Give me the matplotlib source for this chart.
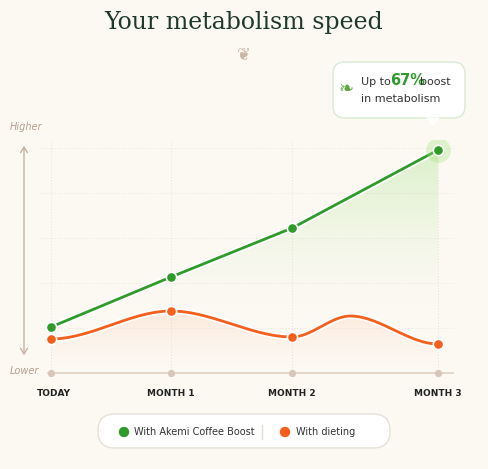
import numpy as np
import matplotlib
matplotlib.use("Agg")
import matplotlib.pyplot as plt
from matplotlib.patches import FancyBboxPatch, Polygon

months = ["TODAY", "MONTH 1", "MONTH 2", "MONTH 3"]
month_x = [0, 0.93, 1.87, 3]
green_vals = [46, 96, 145, 223]
orange_x = [0, 0.93, 1.87, 2.32, 3]
orange_vals = [34, 62, 36, 57, 29]

BG = "#fcf9f3"
GREEN = "#2e9b2a"
ORANGE = "#f4601c"
TAN = "#c9b3a3"

W, H = 488, 469
fig = plt.figure(figsize=(W/100, H/100), dpi=100, facecolor=BG)
ppu = (438-51)/3
ax = fig.add_axes([40/W, (H-373)/H, 415/W, 233/H])
ax.set_facecolor(BG)
ax.set_xlim(-11/ppu, 3+17/ppu)
ax.set_ylim(0, 233)
for s in ax.spines.values():
    s.set_visible(False)
ax.set_xticks([]); ax.set_yticks([])

for gx_ in month_x:
    ax.axvline(gx_, color="#e6e0d8", lw=0.7, ls=(0, (1, 2)), zorder=0)
for gy_ in [45, 90, 135, 180, 225]:
    ax.axhline(gy_, color="#ebe6de", lw=0.7, ls=(0, (1, 2)), zorder=0)

ax.plot([-0.02, 3.12], [0, 0], color="#e3d3c6", lw=1.3, zorder=1, clip_on=False)
ax.scatter(month_x, [0]*4, s=18, color="#d8c6b8", zorder=2, clip_on=False)

def smooth(xs, ys, n=60):
    X, Y = [], []
    for i in range(len(xs)-1):
        t = np.linspace(0, 1, n)
        h = 3*t**2 - 2*t**3
        X.append(xs[i] + (xs[i+1]-xs[i])*t)
        Y.append(ys[i] + (ys[i+1]-ys[i])*h)
    return np.concatenate(X), np.concatenate(Y)

ox, oy = smooth(orange_x, orange_vals)
gx = np.array(month_x, float); gy = np.array(green_vals, float)

def grad_fill(x, y, color, alpha_top, extent_top, extent_bot):
    from matplotlib.colors import to_rgb
    r, g, b = to_rgb(color)
    n = 200
    img = np.zeros((n, 1, 4))
    img[..., 0], img[..., 1], img[..., 2] = r, g, b
    img[:, 0, 3] = np.linspace(alpha_top, 0, n)**1.5
    im = ax.imshow(img, aspect="auto", extent=[x.min(), x.max(), extent_bot, extent_top],
                   origin="upper", zorder=1)
    verts = np.vstack([np.c_[x, y], [[x.max(), 0], [x.min(), 0]]])
    poly = Polygon(verts, closed=True, transform=ax.transData, facecolor="none", edgecolor="none")
    ax.add_patch(poly)
    im.set_clip_path(poly)

grad_fill(gx, gy, "#8fdc6a", 0.45, 223, 60)
grad_fill(ox, oy, "#ffb894", 0.4, 62, 0)

ax.plot(ox, oy, color="white", lw=4.5, zorder=3)
ax.plot(ox, oy, color=ORANGE, lw=2.0, zorder=4)
ax.plot(gx, gy, color="white", lw=4.5, zorder=3)
ax.plot(gx, gy, color=GREEN, lw=2.0, zorder=4)

ax.scatter([3], [223], s=320, color="#a6e384", alpha=0.35, zorder=4, lw=0)
ax.scatter(month_x, gy, s=55, color=GREEN, edgecolor="white", lw=1.2, zorder=5)
ax.scatter(month_x, [orange_vals[i] for i in (0, 1, 2, 4)], s=55, color=ORANGE,
           edgecolor="white", lw=1.2, zorder=5)

for x, lab in zip(month_x, months):
    ax.text(x + (0.02 if x == 0 else 0), -20, lab, ha="center", va="center",
            fontsize=6.5, fontweight="bold", color="#222222")

fig.patches.append(matplotlib.patches.FancyArrowPatch(
    (24/W, 1-358/H), (24/W, 1-143/H), arrowstyle="<->,head_length=4,head_width=2.5",
    color=TAN, lw=1, transform=fig.transFigure))
fig.text(10/W, 1-127/H, "Higher", fontsize=7, style="italic", color="#b79f8e", va="center")
fig.text(10/W, 1-371/H, "Lower", fontsize=7, style="italic", color="#b79f8e", va="center")

fig.text(0.5, 1-22/H, "Your metabolism speed", ha="center", va="center", fontsize=17,
         family="DejaVu Serif", color="#1f3a2c")
fig.text(0.5, 1-54/H, "❦", ha="center", va="center", fontsize=12, color="#cdb7a4")

cb = FancyBboxPatch((333/W, 1-118/H), 132/W, 56/H, boxstyle="round,pad=0,rounding_size=0.025",
                    transform=fig.transFigure, facecolor="white", edgecolor="#d9ead0", lw=1)
fig.patches.append(cb)
fig.patches.append(Polygon([[426/W, 1-117.5/H], [440/W, 1-117.5/H], [433/W, 1-126/H]],
                           closed=True, transform=fig.transFigure, facecolor="white",
                           edgecolor="none"))
fig.text(346/W, 1-89/H, "❧", fontsize=13, color="#5aaa3a", va="center", ha="center")
t1 = fig.text(361/W, 1-81/H, "Up to ", fontsize=8, color="#333333", va="baseline")
t1.set_y(1-85/H)
t2 = fig.text(390/W, 1-85/H, "67%", fontsize=10.5, color=GREEN, fontweight="bold", va="baseline")
t3 = fig.text(420/W, 1-85/H, "boost", fontsize=8, color="#333333", va="baseline")
fig.text(361/W, 1-99/H, "in metabolism", fontsize=8, color="#333333", va="center")

lb = FancyBboxPatch((98/W, 1-448/H), 292/W, 34/H, boxstyle="round,pad=0,rounding_size=0.035",
                    transform=fig.transFigure, facecolor="white", edgecolor="#e6e0d8", lw=1)
fig.patches.append(lb)
fig.patches.append(matplotlib.patches.Ellipse((124/W, 1-432/H), 9/W, 9/H, color=GREEN,
                                              transform=fig.transFigure))
fig.text(134/W, 1-432/H, "With Akemi Coffee Boost", fontsize=7, color="#333333", va="center")
fig.lines.append(matplotlib.lines.Line2D([262/W, 262/W], [1-425/H, 1-439/H], color="#e3ddd5",
                                         lw=1, transform=fig.transFigure))
fig.patches.append(matplotlib.patches.Ellipse((285/W, 1-432/H), 9/W, 9/H, color=ORANGE,
                                              transform=fig.transFigure))
fig.text(296/W, 1-432/H, "With dieting", fontsize=7, color="#333333", va="center")

fig.savefig("out.png", dpi=100, facecolor=BG)
